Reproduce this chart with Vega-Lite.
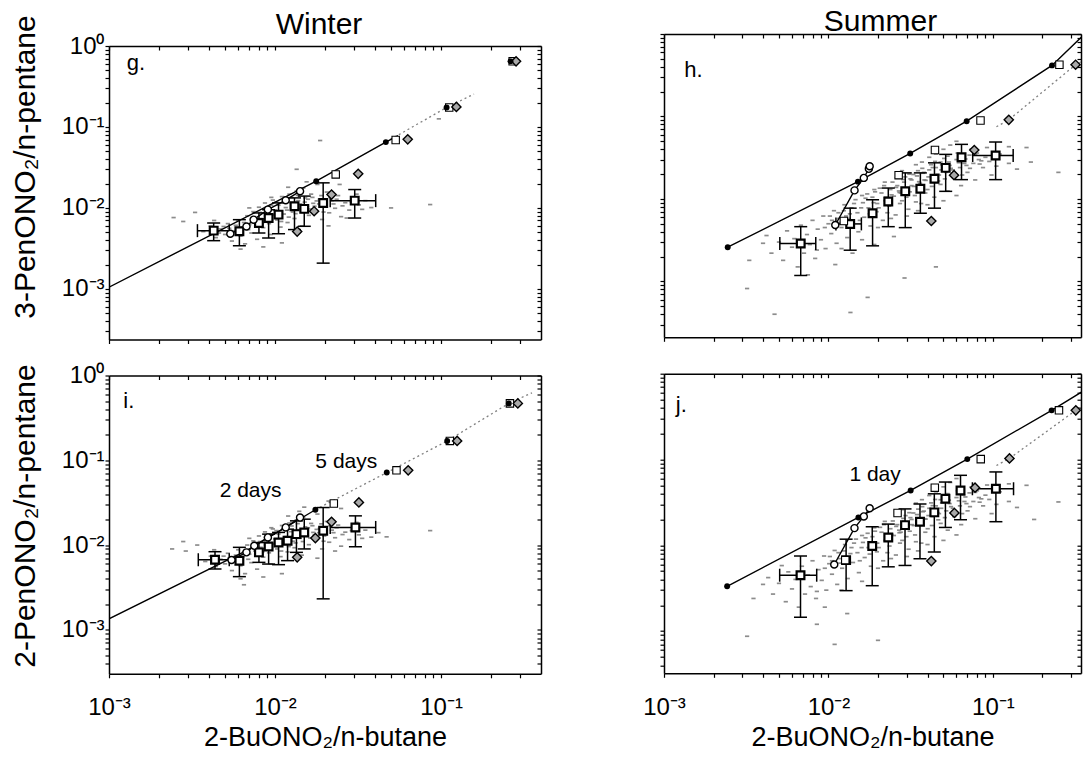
{
"$schema":"https://vega.github.io/schema/vega-lite/v6.json",
"background":"white",
"padding":{"left":10,"top":7,"right":0,"bottom":0},
"spacing":100,
"datasets":{
"pts_g":[{"x":0.00245,"y":0.0076},{"x":0.0028,"y":0.0068},{"x":0.0033,"y":0.0088},{"x":0.0037,"y":0.0051},{"x":0.0041,"y":0.006},{"x":0.0044,"y":0.0043},{"x":0.0047,"y":0.0055},{"x":0.005,"y":0.0047},{"x":0.0052,"y":0.0064},{"x":0.0055,"y":0.0039},{"x":0.0057,"y":0.0052},{"x":0.006,"y":0.007},{"x":0.0062,"y":0.0045},{"x":0.0064,"y":0.0058},{"x":0.0066,"y":0.0036},{"x":0.0068,"y":0.008},{"x":0.007,"y":0.0062},{"x":0.0072,"y":0.0049},{"x":0.0074,"y":0.009},{"x":0.0076,"y":0.0067},{"x":0.0078,"y":0.0041},{"x":0.008,"y":0.0102},{"x":0.0082,"y":0.0074},{"x":0.0085,"y":0.0057},{"x":0.0087,"y":0.0115},{"x":0.009,"y":0.0084},{"x":0.0092,"y":0.0064},{"x":0.0094,"y":0.0047},{"x":0.0097,"y":0.0125},{"x":0.01,"y":0.0094},{"x":0.0103,"y":0.0071},{"x":0.0105,"y":0.0108},{"x":0.0108,"y":0.0058},{"x":0.011,"y":0.0138},{"x":0.0113,"y":0.0084},{"x":0.0116,"y":0.0101},{"x":0.0119,"y":0.0066},{"x":0.0122,"y":0.0148},{"x":0.0125,"y":0.0116},{"x":0.0128,"y":0.0089},{"x":0.0131,"y":0.0074},{"x":0.0135,"y":0.0162},{"x":0.0138,"y":0.0123},{"x":0.0141,"y":0.0097},{"x":0.0145,"y":0.006},{"x":0.0148,"y":0.0176},{"x":0.0152,"y":0.0133},{"x":0.0156,"y":0.0104},{"x":0.016,"y":0.0081},{"x":0.0165,"y":0.0148},{"x":0.017,"y":0.0114},{"x":0.0175,"y":0.0091},{"x":0.018,"y":0.0195},{"x":0.0186,"y":0.0128},{"x":0.0192,"y":0.0072},{"x":0.0198,"y":0.0104},{"x":0.0205,"y":0.0157},{"x":0.0212,"y":0.0087},{"x":0.022,"y":0.0123},{"x":0.023,"y":0.0099},{"x":0.024,"y":0.0142},{"x":0.025,"y":0.0078},{"x":0.0265,"y":0.0116},{"x":0.028,"y":0.0094},{"x":0.03,"y":0.0133},{"x":0.032,"y":0.0109},{"x":0.035,"y":0.0123},{"x":0.038,"y":0.0101},{"x":0.05,"y":0.01},{"x":0.086,"y":0.011},{"x":0.0187,"y":0.068},{"x":0.097,"y":0.126},{"x":0.0135,"y":0.03},{"x":0.0245,"y":0.0195},{"x":0.0085,"y":0.0033},{"x":0.011,"y":0.0037},{"x":0.0062,"y":0.0031},{"x":0.0155,"y":0.021},{"x":0.012,"y":0.018},{"x":0.0095,"y":0.0135},{"x":0.007,"y":0.01},{"x":0.0043,"y":0.007},{"x":0.021,"y":0.006},{"x":0.027,"y":0.0075},{"x":0.0065,"y":0.0066},{"x":0.0069,"y":0.0054},{"x":0.0073,"y":0.0076},{"x":0.0077,"y":0.0059},{"x":0.0081,"y":0.0088},{"x":0.0084,"y":0.0066},{"x":0.0088,"y":0.0098},{"x":0.0091,"y":0.0073},{"x":0.0095,"y":0.0108},{"x":0.0099,"y":0.0082},{"x":0.0102,"y":0.0118},{"x":0.0106,"y":0.0091},{"x":0.0109,"y":0.0068},{"x":0.0114,"y":0.0125},{"x":0.0118,"y":0.0094},{"x":0.0121,"y":0.0077},{"x":0.0126,"y":0.0134},{"x":0.0129,"y":0.0103},{"x":0.0133,"y":0.0085},{"x":0.0137,"y":0.0143},{"x":0.0142,"y":0.0112},{"x":0.0147,"y":0.0088},{"x":0.0151,"y":0.0118},{"x":0.0158,"y":0.0128},{"x":0.0163,"y":0.0097},{"x":0.0168,"y":0.0135},{"x":0.0173,"y":0.0105},{"x":0.0178,"y":0.0122},{"x":0.0184,"y":0.0112},{"x":0.019,"y":0.0142},{"x":0.0196,"y":0.0089},{"x":0.0202,"y":0.0118},{"x":0.0215,"y":0.0135},{"x":0.0225,"y":0.0112},{"x":0.0235,"y":0.0128},{"x":0.0255,"y":0.0106},{"x":0.029,"y":0.0118},{"x":0.031,"y":0.0148},{"x":0.0335,"y":0.0096},{"x":0.0058,"y":0.0061},{"x":0.0053,"y":0.0056},{"x":0.0049,"y":0.0059},{"x":0.0046,"y":0.0049}],
"pts_i":[{"x":0.0024,"y":0.009},{"x":0.0029,"y":0.0085},{"x":0.0034,"y":0.01},{"x":0.0038,"y":0.0064},{"x":0.0041,"y":0.0074},{"x":0.0044,"y":0.0056},{"x":0.0047,"y":0.0068},{"x":0.005,"y":0.006},{"x":0.0052,"y":0.008},{"x":0.0055,"y":0.005},{"x":0.0057,"y":0.0066},{"x":0.006,"y":0.0088},{"x":0.0062,"y":0.0057},{"x":0.0064,"y":0.0073},{"x":0.0066,"y":0.0046},{"x":0.0068,"y":0.01},{"x":0.007,"y":0.0078},{"x":0.0072,"y":0.0062},{"x":0.0074,"y":0.0112},{"x":0.0076,"y":0.0085},{"x":0.0078,"y":0.0052},{"x":0.008,"y":0.0128},{"x":0.0082,"y":0.0094},{"x":0.0085,"y":0.0072},{"x":0.0087,"y":0.0143},{"x":0.009,"y":0.0106},{"x":0.0092,"y":0.0081},{"x":0.0094,"y":0.006},{"x":0.0097,"y":0.0155},{"x":0.01,"y":0.0118},{"x":0.0103,"y":0.009},{"x":0.0105,"y":0.0135},{"x":0.0108,"y":0.0073},{"x":0.011,"y":0.017},{"x":0.0113,"y":0.0105},{"x":0.0116,"y":0.0126},{"x":0.0119,"y":0.0083},{"x":0.0122,"y":0.0182},{"x":0.0125,"y":0.0144},{"x":0.0128,"y":0.0111},{"x":0.0131,"y":0.0093},{"x":0.0135,"y":0.0198},{"x":0.0138,"y":0.0152},{"x":0.0141,"y":0.012},{"x":0.0145,"y":0.0076},{"x":0.0148,"y":0.0212},{"x":0.0152,"y":0.0164},{"x":0.0156,"y":0.0129},{"x":0.016,"y":0.0101},{"x":0.0165,"y":0.018},{"x":0.017,"y":0.0141},{"x":0.0175,"y":0.0113},{"x":0.018,"y":0.0232},{"x":0.0186,"y":0.0157},{"x":0.0192,"y":0.009},{"x":0.0198,"y":0.0128},{"x":0.0205,"y":0.019},{"x":0.0212,"y":0.0108},{"x":0.022,"y":0.015},{"x":0.023,"y":0.0122},{"x":0.024,"y":0.0172},{"x":0.025,"y":0.0097},{"x":0.0265,"y":0.0142},{"x":0.028,"y":0.0116},{"x":0.03,"y":0.016},{"x":0.032,"y":0.0132},{"x":0.035,"y":0.015},{"x":0.038,"y":0.0124},{"x":0.042,"y":0.014},{"x":0.047,"y":0.0125},{"x":0.086,"y":0.0148},{"x":0.021,"y":0.033},{"x":0.025,"y":0.027},{"x":0.015,"y":0.028},{"x":0.0085,"y":0.0042},{"x":0.011,"y":0.0046},{"x":0.0062,"y":0.004},{"x":0.0065,"y":0.0034},{"x":0.014,"y":0.025},{"x":0.012,"y":0.022},{"x":0.0095,"y":0.016},{"x":0.007,"y":0.012},{"x":0.0043,"y":0.0088},{"x":0.018,"y":0.007},{"x":0.023,"y":0.0085},{"x":0.0028,"y":0.011},{"x":0.0065,"y":0.0083},{"x":0.0069,"y":0.0068},{"x":0.0073,"y":0.0095},{"x":0.0077,"y":0.0074},{"x":0.0081,"y":0.011},{"x":0.0084,"y":0.0083},{"x":0.0088,"y":0.0123},{"x":0.0091,"y":0.0091},{"x":0.0095,"y":0.0135},{"x":0.0099,"y":0.0103},{"x":0.0102,"y":0.0148},{"x":0.0106,"y":0.0114},{"x":0.0109,"y":0.0085},{"x":0.0114,"y":0.0156},{"x":0.0118,"y":0.0118},{"x":0.0121,"y":0.0096},{"x":0.0126,"y":0.0168},{"x":0.0129,"y":0.0129},{"x":0.0133,"y":0.0106},{"x":0.0137,"y":0.0179},{"x":0.0142,"y":0.014},{"x":0.0147,"y":0.011},{"x":0.0151,"y":0.0148},{"x":0.0158,"y":0.016},{"x":0.0163,"y":0.0121},{"x":0.0168,"y":0.0169},{"x":0.0173,"y":0.0131},{"x":0.0178,"y":0.0153},{"x":0.0184,"y":0.014},{"x":0.019,"y":0.0178},{"x":0.0196,"y":0.0111},{"x":0.0202,"y":0.0148},{"x":0.0215,"y":0.0169},{"x":0.0225,"y":0.014},{"x":0.0235,"y":0.016},{"x":0.0255,"y":0.0133},{"x":0.029,"y":0.0148},{"x":0.031,"y":0.0185},{"x":0.0335,"y":0.012},{"x":0.0058,"y":0.0076},{"x":0.0053,"y":0.007},{"x":0.0049,"y":0.0074},{"x":0.0046,"y":0.0061}],
"pts_h":[{"x":0.0032,"y":0.00082},{"x":0.0033,"y":0.0018},{"x":0.004,"y":0.0029},{"x":0.0042,"y":0.0036},{"x":0.0045,"y":0.0022},{"x":0.0047,"y":0.0004},{"x":0.005,"y":0.003},{"x":0.0053,"y":0.0018},{"x":0.0056,"y":0.0041},{"x":0.006,"y":0.0026},{"x":0.0062,"y":0.0033},{"x":0.0065,"y":0.0015},{"x":0.0068,"y":0.0048},{"x":0.0071,"y":0.0022},{"x":0.0074,"y":0.0037},{"x":0.0075,"y":0.0012},{"x":0.0077,"y":0.0028},{"x":0.008,"y":0.0055},{"x":0.0083,"y":0.0019},{"x":0.0086,"y":0.0043},{"x":0.009,"y":0.0032},{"x":0.0093,"y":0.0062},{"x":0.0096,"y":0.0025},{"x":0.01,"y":0.005},{"x":0.0104,"y":0.0038},{"x":0.0108,"y":0.0072},{"x":0.011,"y":0.0016},{"x":0.0112,"y":0.0029},{"x":0.0116,"y":0.0058},{"x":0.012,"y":0.0045},{"x":0.0125,"y":0.0085},{"x":0.013,"y":0.0034},{"x":0.0135,"y":0.0066},{"x":0.0136,"y":0.00042},{"x":0.014,"y":0.0052},{"x":0.014,"y":0.0022},{"x":0.0146,"y":0.0098},{"x":0.0152,"y":0.004},{"x":0.0158,"y":0.0078},{"x":0.0165,"y":0.006},{"x":0.0172,"y":0.0115},{"x":0.0173,"y":0.00064},{"x":0.018,"y":0.0047},{"x":0.0188,"y":0.009},{"x":0.019,"y":0.0028},{"x":0.0196,"y":0.007},{"x":0.0205,"y":0.0135},{"x":0.0214,"y":0.0055},{"x":0.0224,"y":0.0105},{"x":0.0234,"y":0.0082},{"x":0.0245,"y":0.016},{"x":0.025,"y":0.0035},{"x":0.0256,"y":0.0064},{"x":0.0268,"y":0.0125},{"x":0.028,"y":0.0095},{"x":0.029,"y":0.0011},{"x":0.0293,"y":0.0185},{"x":0.0306,"y":0.0075},{"x":0.032,"y":0.0145},{"x":0.0335,"y":0.011},{"x":0.035,"y":0.022},{"x":0.0366,"y":0.0088},{"x":0.0383,"y":0.017},{"x":0.04,"y":0.013},{"x":0.042,"y":0.026},{"x":0.044,"y":0.0105},{"x":0.045,"y":0.0015},{"x":0.046,"y":0.02},{"x":0.048,"y":0.015},{"x":0.0505,"y":0.031},{"x":0.053,"y":0.0125},{"x":0.0555,"y":0.0235},{"x":0.058,"y":0.018},{"x":0.061,"y":0.036},{"x":0.064,"y":0.0145},{"x":0.067,"y":0.027},{"x":0.07,"y":0.021},{"x":0.074,"y":0.04},{"x":0.078,"y":0.017},{"x":0.082,"y":0.03},{"x":0.087,"y":0.024},{"x":0.092,"y":0.042},{"x":0.098,"y":0.0195},{"x":0.11,"y":0.035},{"x":0.125,"y":0.043},{"x":0.125,"y":0.027},{"x":0.14,"y":0.023},{"x":0.17,"y":0.028},{"x":0.25,"y":0.021},{"x":0.16,"y":0.042},{"x":0.016,"y":0.011},{"x":0.019,"y":0.013},{"x":0.022,"y":0.016},{"x":0.026,"y":0.018},{"x":0.028,"y":0.022},{"x":0.031,"y":0.02},{"x":0.034,"y":0.026},{"x":0.037,"y":0.028},{"x":0.041,"y":0.032},{"x":0.045,"y":0.035},{"x":0.05,"y":0.04},{"x":0.055,"y":0.045},{"x":0.06,"y":0.05},{"x":0.027,"y":0.012},{"x":0.032,"y":0.017},{"x":0.038,"y":0.021},{"x":0.043,"y":0.024},{"x":0.048,"y":0.028},{"x":0.053,"y":0.033},{"x":0.0105,"y":0.0055},{"x":0.0115,"y":0.0068},{"x":0.0128,"y":0.0062},{"x":0.0138,"y":0.0078},{"x":0.015,"y":0.0068},{"x":0.0162,"y":0.009},{"x":0.0175,"y":0.0078},{"x":0.0185,"y":0.0105},{"x":0.0198,"y":0.0088},{"x":0.021,"y":0.0118},{"x":0.0222,"y":0.0095},{"x":0.0238,"y":0.013},{"x":0.025,"y":0.0108},{"x":0.0262,"y":0.0145},{"x":0.0275,"y":0.0118},{"x":0.0288,"y":0.016},{"x":0.03,"y":0.0132},{"x":0.0315,"y":0.0175},{"x":0.033,"y":0.0142},{"x":0.0345,"y":0.019},{"x":0.036,"y":0.0155},{"x":0.0375,"y":0.0205},{"x":0.039,"y":0.0168},{"x":0.041,"y":0.0225},{"x":0.043,"y":0.018},{"x":0.045,"y":0.024},{"x":0.047,"y":0.0195},{"x":0.049,"y":0.026},{"x":0.052,"y":0.021},{"x":0.054,"y":0.028},{"x":0.057,"y":0.0225},{"x":0.06,"y":0.03},{"x":0.063,"y":0.024},{"x":0.066,"y":0.032},{"x":0.069,"y":0.0255},{"x":0.072,"y":0.034},{"x":0.076,"y":0.027},{"x":0.08,"y":0.036},{"x":0.085,"y":0.029},{"x":0.09,"y":0.032},{"x":0.02,"y":0.0045},{"x":0.024,"y":0.0058},{"x":0.03,"y":0.0062},{"x":0.035,"y":0.0072},{"x":0.04,"y":0.0085},{"x":0.05,"y":0.0095},{"x":0.06,"y":0.011},{"x":0.012,"y":0.0025},{"x":0.016,"y":0.0032},{"x":0.0085,"y":0.0024},{"x":0.0095,"y":0.0045},{"x":0.0102,"y":0.0062},{"x":0.0118,"y":0.0052},{"x":0.0124,"y":0.0072},{"x":0.0133,"y":0.0058},{"x":0.0143,"y":0.0088},{"x":0.0155,"y":0.0055},{"x":0.0168,"y":0.0102},{"x":0.0178,"y":0.0066},{"x":0.0192,"y":0.0122},{"x":0.0202,"y":0.0078},{"x":0.0218,"y":0.0145},{"x":0.0228,"y":0.0068},{"x":0.0242,"y":0.0112},{"x":0.0258,"y":0.0138},{"x":0.0272,"y":0.0088},{"x":0.0285,"y":0.0172},{"x":0.0298,"y":0.0105},{"x":0.0312,"y":0.0122},{"x":0.0328,"y":0.0198},{"x":0.034,"y":0.0092},{"x":0.0355,"y":0.0162},{"x":0.0372,"y":0.0235},{"x":0.0388,"y":0.0118},{"x":0.0405,"y":0.0185},{"x":0.0425,"y":0.0142},{"x":0.0445,"y":0.0285},{"x":0.0465,"y":0.0165},{"x":0.0485,"y":0.0225},{"x":0.051,"y":0.0175},{"x":0.0545,"y":0.0255},{"x":0.0575,"y":0.0205},{"x":0.062,"y":0.0275},{"x":0.065,"y":0.0195},{"x":0.068,"y":0.0305},{"x":0.0725,"y":0.0235},{"x":0.078,"y":0.0345},{"x":0.083,"y":0.0265},{"x":0.095,"y":0.0285},{"x":0.105,"y":0.025}],
"pts_j":[{"x":0.0032,"y":0.00087},{"x":0.0035,"y":0.0024},{"x":0.004,"y":0.0035},{"x":0.0043,"y":0.0042},{"x":0.0046,"y":0.0027},{"x":0.005,"y":0.0036},{"x":0.0052,"y":0.0058},{"x":0.0055,"y":0.0022},{"x":0.0057,"y":0.0049},{"x":0.006,"y":0.0031},{"x":0.0063,"y":0.004},{"x":0.0066,"y":0.0019},{"x":0.0069,"y":0.0057},{"x":0.0072,"y":0.0027},{"x":0.0075,"y":0.0045},{"x":0.0078,"y":0.0033},{"x":0.008,"y":0.0066},{"x":0.0084,"y":0.0024},{"x":0.0087,"y":0.0052},{"x":0.0091,"y":0.0039},{"x":0.0094,"y":0.0075},{"x":0.0097,"y":0.003},{"x":0.0101,"y":0.0061},{"x":0.0105,"y":0.0046},{"x":0.0109,"y":0.0007},{"x":0.0109,"y":0.0087},{"x":0.0113,"y":0.0035},{"x":0.0117,"y":0.007},{"x":0.0121,"y":0.0054},{"x":0.0126,"y":0.0102},{"x":0.0131,"y":0.0041},{"x":0.0136,"y":0.008},{"x":0.0141,"y":0.0063},{"x":0.0147,"y":0.0118},{"x":0.0153,"y":0.0048},{"x":0.0159,"y":0.0094},{"x":0.0166,"y":0.0072},{"x":0.0173,"y":0.0138},{"x":0.0181,"y":0.0057},{"x":0.0189,"y":0.0108},{"x":0.0197,"y":0.0084},{"x":0.02,"y":0.00078},{"x":0.0206,"y":0.0162},{"x":0.0215,"y":0.0066},{"x":0.0225,"y":0.0126},{"x":0.0235,"y":0.0098},{"x":0.0246,"y":0.0192},{"x":0.0257,"y":0.0077},{"x":0.0269,"y":0.015},{"x":0.0281,"y":0.0114},{"x":0.0294,"y":0.0222},{"x":0.0307,"y":0.009},{"x":0.0321,"y":0.0174},{"x":0.0336,"y":0.0132},{"x":0.0351,"y":0.0264},{"x":0.0367,"y":0.0106},{"x":0.0384,"y":0.0204},{"x":0.0401,"y":0.0156},{"x":0.0421,"y":0.0312},{"x":0.0441,"y":0.0126},{"x":0.0461,"y":0.024},{"x":0.0481,"y":0.018},{"x":0.0506,"y":0.0372},{"x":0.0531,"y":0.015},{"x":0.0556,"y":0.0282},{"x":0.0581,"y":0.0216},{"x":0.0611,"y":0.0432},{"x":0.0641,"y":0.0174},{"x":0.0671,"y":0.0324},{"x":0.0701,"y":0.0252},{"x":0.0741,"y":0.048},{"x":0.0781,"y":0.0204},{"x":0.0821,"y":0.036},{"x":0.0871,"y":0.0288},{"x":0.0921,"y":0.0504},{"x":0.0981,"y":0.0234},{"x":0.11,"y":0.042},{"x":0.125,"y":0.052},{"x":0.125,"y":0.0324},{"x":0.14,"y":0.0276},{"x":0.178,"y":0.02},{"x":0.25,"y":0.032},{"x":0.16,"y":0.05},{"x":0.016,"y":0.013},{"x":0.019,"y":0.016},{"x":0.022,"y":0.019},{"x":0.026,"y":0.022},{"x":0.028,"y":0.026},{"x":0.031,"y":0.024},{"x":0.034,"y":0.031},{"x":0.037,"y":0.034},{"x":0.041,"y":0.038},{"x":0.045,"y":0.042},{"x":0.05,"y":0.048},{"x":0.055,"y":0.054},{"x":0.06,"y":0.06},{"x":0.027,"y":0.014},{"x":0.032,"y":0.02},{"x":0.038,"y":0.025},{"x":0.043,"y":0.029},{"x":0.048,"y":0.034},{"x":0.053,"y":0.04},{"x":0.0085,"y":0.0012},{"x":0.013,"y":0.0016},{"x":0.0095,"y":0.0019},{"x":0.0105,"y":0.0066},{"x":0.0115,"y":0.0082},{"x":0.0128,"y":0.0074},{"x":0.0138,"y":0.0094},{"x":0.015,"y":0.0082},{"x":0.0162,"y":0.0108},{"x":0.0175,"y":0.0094},{"x":0.0185,"y":0.0126},{"x":0.0198,"y":0.0106},{"x":0.021,"y":0.0142},{"x":0.0222,"y":0.0114},{"x":0.0238,"y":0.0156},{"x":0.025,"y":0.013},{"x":0.0262,"y":0.0174},{"x":0.0275,"y":0.0142},{"x":0.0288,"y":0.0192},{"x":0.03,"y":0.0158},{"x":0.0315,"y":0.021},{"x":0.033,"y":0.017},{"x":0.0345,"y":0.0228},{"x":0.036,"y":0.0186},{"x":0.0375,"y":0.0246},{"x":0.039,"y":0.0202},{"x":0.041,"y":0.027},{"x":0.043,"y":0.0216},{"x":0.045,"y":0.0288},{"x":0.047,"y":0.0234},{"x":0.049,"y":0.0312},{"x":0.052,"y":0.0252},{"x":0.054,"y":0.0336},{"x":0.057,"y":0.027},{"x":0.06,"y":0.036},{"x":0.063,"y":0.0288},{"x":0.066,"y":0.0384},{"x":0.069,"y":0.0306},{"x":0.072,"y":0.0408},{"x":0.076,"y":0.0324},{"x":0.08,"y":0.0432},{"x":0.085,"y":0.0348},{"x":0.09,"y":0.0384},{"x":0.02,"y":0.0054},{"x":0.024,"y":0.007},{"x":0.03,"y":0.0074},{"x":0.035,"y":0.0086},{"x":0.04,"y":0.0102},{"x":0.05,"y":0.0114},{"x":0.06,"y":0.0132},{"x":0.012,"y":0.003},{"x":0.016,"y":0.0038},{"x":0.0085,"y":0.0029},{"x":0.0095,"y":0.0054},{"x":0.0102,"y":0.0074},{"x":0.0118,"y":0.0062},{"x":0.0124,"y":0.0086},{"x":0.0133,"y":0.007},{"x":0.0143,"y":0.0106},{"x":0.0155,"y":0.0066},{"x":0.0168,"y":0.0122},{"x":0.0178,"y":0.0079},{"x":0.0192,"y":0.0146},{"x":0.0202,"y":0.0094},{"x":0.0218,"y":0.0174},{"x":0.0228,"y":0.0082},{"x":0.0242,"y":0.0134},{"x":0.0258,"y":0.0166},{"x":0.0272,"y":0.0106},{"x":0.0285,"y":0.0206},{"x":0.0298,"y":0.0126},{"x":0.0312,"y":0.0146},{"x":0.0328,"y":0.0238},{"x":0.034,"y":0.011},{"x":0.0355,"y":0.0194},{"x":0.0372,"y":0.0282},{"x":0.0388,"y":0.0142},{"x":0.0405,"y":0.0222},{"x":0.0425,"y":0.017},{"x":0.0445,"y":0.0342},{"x":0.0465,"y":0.0198},{"x":0.0485,"y":0.027},{"x":0.051,"y":0.021},{"x":0.0545,"y":0.0306},{"x":0.0575,"y":0.0246},{"x":0.062,"y":0.033},{"x":0.065,"y":0.0234},{"x":0.068,"y":0.0366},{"x":0.0725,"y":0.0282},{"x":0.078,"y":0.0414},{"x":0.083,"y":0.0318},{"x":0.095,"y":0.0342},{"x":0.105,"y":0.03}],
"mod":[
{"p":"g","s":"line","x":0.001,"y":0.00105},{"p":"g","s":"line","x":0.0177,"y":0.0214},{"p":"g","s":"line","x":0.0465,"y":0.065},{"p":"g","s":"line","x":0.055,"y":0.078},
{"p":"g","s":"dotted","x":0.0465,"y":0.065},{"p":"g","s":"dotted","x":0.108,"y":0.174},{"p":"g","s":"dotted","x":0.158,"y":0.255},
{"p":"g","s":"circ","x":0.00538,"y":0.0048},{"p":"g","s":"circ","x":0.00673,"y":0.0059},{"p":"g","s":"circ","x":0.00743,"y":0.00716},{"p":"g","s":"circ","x":0.00906,"y":0.00953},{"p":"g","s":"circ","x":0.0116,"y":0.01245},{"p":"g","s":"circ","x":0.01415,"y":0.0161},
{"p":"g","s":"dot","x":0.0177,"y":0.0214},{"p":"g","s":"dot","x":0.0465,"y":0.065},{"p":"g","s":"dot","x":0.108,"y":0.174},{"p":"g","s":"dot","x":0.262,"y":0.646},
{"p":"g","s":"sq","x":0.0232,"y":0.0259},{"p":"g","s":"sq","x":0.0533,"y":0.069},{"p":"g","s":"sq","x":0.112,"y":0.174},{"p":"g","s":"sq","x":0.27,"y":0.646},
{"p":"g","s":"dia","x":0.0136,"y":0.0051},{"p":"g","s":"dia","x":0.0172,"y":0.0091},{"p":"g","s":"dia","x":0.0219,"y":0.0146},{"p":"g","s":"dia","x":0.0317,"y":0.0264},{"p":"g","s":"dia","x":0.063,"y":0.0703},{"p":"g","s":"dia","x":0.1237,"y":0.177},{"p":"g","s":"dia","x":0.283,"y":0.646},
{"p":"i","s":"line","x":0.001,"y":0.00135},{"p":"i","s":"line","x":0.00673,"y":0.00858},{"p":"i","s":"line","x":0.0175,"y":0.0261},
{"p":"i","s":"dotted","x":0.0175,"y":0.0261},{"p":"i","s":"dotted","x":0.0471,"y":0.0716},{"p":"i","s":"dotted","x":0.1089,"y":0.169},{"p":"i","s":"dotted","x":0.256,"y":0.469},{"p":"i","s":"dotted","x":0.353,"y":0.625},
{"p":"i","s":"circ","x":0.00547,"y":0.00667},{"p":"i","s":"circ","x":0.00673,"y":0.0082},{"p":"i","s":"circ","x":0.0075,"y":0.0098},{"p":"i","s":"circ","x":0.00906,"y":0.0123},{"p":"i","s":"circ","x":0.0116,"y":0.01614},{"p":"i","s":"circ","x":0.01415,"y":0.0211},
{"p":"i","s":"dot","x":0.0175,"y":0.0261},{"p":"i","s":"dot","x":0.0471,"y":0.0716},{"p":"i","s":"dot","x":0.1089,"y":0.169},{"p":"i","s":"dot","x":0.256,"y":0.469},
{"p":"i","s":"sq","x":0.0226,"y":0.0309},{"p":"i","s":"sq","x":0.0539,"y":0.0762},{"p":"i","s":"sq","x":0.113,"y":0.169},{"p":"i","s":"sq","x":0.26,"y":0.469},
{"p":"i","s":"dia","x":0.0136,"y":0.00716},{"p":"i","s":"dia","x":0.0175,"y":0.0121},{"p":"i","s":"dia","x":0.0219,"y":0.0188},{"p":"i","s":"dia","x":0.032,"y":0.0318},{"p":"i","s":"dia","x":0.0634,"y":0.0762},{"p":"i","s":"dia","x":0.125,"y":0.169},{"p":"i","s":"dia","x":0.29,"y":0.469},
{"p":"h","s":"line","x":0.00244,"y":0.0026},{"p":"h","s":"line","x":0.0151,"y":0.0162},{"p":"h","s":"line","x":0.0314,"y":0.0356},{"p":"h","s":"line","x":0.0692,"y":0.0877},{"p":"h","s":"line","x":0.2286,"y":0.416},{"p":"h","s":"line","x":0.355,"y":0.97},
{"p":"h","s":"dotted","x":0.105,"y":0.075},{"p":"h","s":"dotted","x":0.1248,"y":0.091},{"p":"h","s":"dotted","x":0.318,"y":0.424},{"p":"h","s":"dotted","x":0.36,"y":0.48},
{"p":"h","s":"circ","x":0.011,"y":0.00483},{"p":"h","s":"circ","x":0.0144,"y":0.0127},{"p":"h","s":"circ","x":0.0164,"y":0.018},{"p":"h","s":"circ","x":0.0176,"y":0.0232},{"p":"h","s":"circ","x":0.0178,"y":0.0249},
{"p":"h","s":"dot","x":0.00244,"y":0.0026},{"p":"h","s":"dot","x":0.0151,"y":0.0162},{"p":"h","s":"dot","x":0.0314,"y":0.0356},{"p":"h","s":"dot","x":0.0692,"y":0.0877},{"p":"h","s":"dot","x":0.2286,"y":0.416},
{"p":"h","s":"sq","x":0.0124,"y":0.0054},{"p":"h","s":"sq","x":0.0267,"y":0.0194},{"p":"h","s":"sq","x":0.0444,"y":0.0392},{"p":"h","s":"sq","x":0.084,"y":0.0894},{"p":"h","s":"sq","x":0.2535,"y":0.424},
{"p":"h","s":"dia","x":0.0422,"y":0.0054},{"p":"h","s":"dia","x":0.058,"y":0.0194},{"p":"h","s":"dia","x":0.077,"y":0.0392},{"p":"h","s":"dia","x":0.1248,"y":0.091},{"p":"h","s":"dia","x":0.318,"y":0.424},
{"p":"j","s":"line","x":0.00242,"y":0.00333},{"p":"j","s":"line","x":0.0152,"y":0.0211},{"p":"j","s":"line","x":0.0316,"y":0.0436},{"p":"j","s":"line","x":0.0698,"y":0.101},{"p":"j","s":"line","x":0.2275,"y":0.374},{"p":"j","s":"line","x":0.352,"y":0.625},
{"p":"j","s":"dotted","x":0.105,"y":0.085},{"p":"j","s":"dotted","x":0.126,"y":0.103},{"p":"j","s":"dotted","x":0.319,"y":0.374},{"p":"j","s":"dotted","x":0.36,"y":0.43},
{"p":"j","s":"circ","x":0.01084,"y":0.00597},{"p":"j","s":"circ","x":0.01439,"y":0.01585},{"p":"j","s":"circ","x":0.0164,"y":0.0217},{"p":"j","s":"circ","x":0.0178,"y":0.027},
{"p":"j","s":"dot","x":0.00242,"y":0.00333},{"p":"j","s":"dot","x":0.0152,"y":0.0211},{"p":"j","s":"dot","x":0.0316,"y":0.0436},{"p":"j","s":"dot","x":0.0698,"y":0.101},{"p":"j","s":"dot","x":0.2275,"y":0.374},
{"p":"j","s":"sq","x":0.01265,"y":0.00671},{"p":"j","s":"sq","x":0.0263,"y":0.0238},{"p":"j","s":"sq","x":0.0443,"y":0.0469},{"p":"j","s":"sq","x":0.0843,"y":0.101},{"p":"j","s":"sq","x":0.252,"y":0.374},
{"p":"j","s":"dia","x":0.0422,"y":0.00654},{"p":"j","s":"dia","x":0.0583,"y":0.0238},{"p":"j","s":"dia","x":0.0778,"y":0.0469},{"p":"j","s":"dia","x":0.126,"y":0.103},{"p":"j","s":"dia","x":0.319,"y":0.374}
],
"bins":[
{"p":"g","x":0.00427,"y":0.00524,"lo":0.00394,"hi":0.00651,"xlo":0.00341,"xhi":0.0053},
{"p":"g","x":0.0061,"y":0.00514,"lo":0.00341,"hi":0.00716},
{"p":"g","x":0.008,"y":0.00651,"lo":0.0049,"hi":0.00867},
{"p":"g","x":0.00915,"y":0.0075,"lo":0.00425,"hi":0.0095},
{"p":"g","x":0.0105,"y":0.00826,"lo":0.0048,"hi":0.01153},
{"p":"g","x":0.0131,"y":0.0105,"lo":0.0054,"hi":0.0133},
{"p":"g","x":0.015,"y":0.00973,"lo":0.00593,"hi":0.014},
{"p":"g","x":0.0195,"y":0.0115,"lo":0.00208,"hi":0.0204},
{"p":"g","x":0.0302,"y":0.0123,"lo":0.0075,"hi":0.01686,"xlo":0.0215,"xhi":0.0404},
{"p":"i","x":0.00435,"y":0.00671,"lo":0.00522,"hi":0.00835,"xlo":0.00345,"xhi":0.0053},
{"p":"i","x":0.0061,"y":0.00654,"lo":0.00424,"hi":0.0094},
{"p":"i","x":0.008,"y":0.0082,"lo":0.00625,"hi":0.0107},
{"p":"i","x":0.00915,"y":0.00964,"lo":0.00597,"hi":0.01345},
{"p":"i","x":0.0105,"y":0.01074,"lo":0.00587,"hi":0.0141},
{"p":"i","x":0.0119,"y":0.01124,"lo":0.00655,"hi":0.0154},
{"p":"i","x":0.01346,"y":0.01345,"lo":0.0082,"hi":0.0193},
{"p":"i","x":0.015,"y":0.0141,"lo":0.009,"hi":0.0202},
{"p":"i","x":0.0195,"y":0.01475,"lo":0.00232,"hi":0.0277},
{"p":"i","x":0.0305,"y":0.01614,"lo":0.00955,"hi":0.0221,"xlo":0.0215,"xhi":0.0404},
{"p":"h","x":0.00678,"y":0.00288,"lo":0.00118,"hi":0.00461,"xlo":0.00506,"xhi":0.00837},
{"p":"h","x":0.01355,"y":0.00498,"lo":0.00239,"hi":0.00773,"xlo":0.0111,"xhi":0.01585},
{"p":"h","x":0.01854,"y":0.00671,"lo":0.0027,"hi":0.00977},
{"p":"h","x":0.0231,"y":0.0093,"lo":0.00461,"hi":0.01355},
{"p":"h","x":0.0293,"y":0.01236,"lo":0.00449,"hi":0.0207},
{"p":"h","x":0.0362,"y":0.0133,"lo":0.00671,"hi":0.0207},
{"p":"h","x":0.0441,"y":0.0176,"lo":0.00773,"hi":0.0274},
{"p":"h","x":0.0516,"y":0.0238,"lo":0.01236,"hi":0.0347},
{"p":"h","x":0.0644,"y":0.0321,"lo":0.01714,"hi":0.0459},
{"p":"h","x":0.1038,"y":0.0336,"lo":0.01714,"hi":0.049,"xlo":0.0753,"xhi":0.1327},
{"p":"j","x":0.00676,"y":0.00448,"lo":0.00145,"hi":0.0075,"xlo":0.00505,"xhi":0.00848},
{"p":"j","x":0.0128,"y":0.00671,"lo":0.00296,"hi":0.01178},
{"p":"j","x":0.01845,"y":0.00982,"lo":0.00338,"hi":0.01644},
{"p":"j","x":0.0231,"y":0.0123,"lo":0.00561,"hi":0.01766},
{"p":"j","x":0.0292,"y":0.01718,"lo":0.00582,"hi":0.02655},
{"p":"j","x":0.036,"y":0.01883,"lo":0.00697,"hi":0.0303},
{"p":"j","x":0.044,"y":0.0242,"lo":0.00835,"hi":0.0398},
{"p":"j","x":0.0514,"y":0.0348,"lo":0.01614,"hi":0.0546},
{"p":"j","x":0.0635,"y":0.0436,"lo":0.01986,"hi":0.0654},
{"p":"j","x":0.1042,"y":0.0456,"lo":0.01883,"hi":0.0716,"xlo":0.075,"xhi":0.1334}
],
"txt":[
{"p":"g","k":"L","t":"g.","x":0.00128,"y":0.5},
{"p":"i","k":"L","t":"i.","x":0.00122,"y":0.417},
{"p":"h","k":"L","t":"h.","x":0.00133,"y":0.3},
{"p":"j","k":"L","t":"j.","x":0.00118,"y":0.36},
{"p":"i","k":"N","t":"5 days","x":0.0175,"y":0.082},
{"p":"i","k":"N","t":"2 days","x":0.00464,"y":0.0364},
{"p":"j","k":"N","t":"1 day","x":0.0134,"y":0.0561}
]
},
"hconcat":[
{"spacing":-26,"vconcat":[
{"width":432,"height":1,"data":{"values":[]},"mark":"point"},
{"spacing":18.5,"vconcat":[
{"width":432,"height":293.5,"title":{"text":"Winter","offset":-25,"dx":-6},
"layer":[
{"data":{"name":"pts_g"},"mark":{"type":"point","shape":"M-1,-0.4L1,-0.4L1,0.4L-1,0.4Z","size":18,"filled":true,"color":"#808080","opacity":0.9},
"encoding":{"x":{"field":"x","type":"quantitative","scale":{"type":"log","domain":[0.001,0.4],"nice":false},"axis":{"orient":"bottom","values":[0.001,0.002,0.003,0.004,0.005,0.006,0.007,0.008,0.009,0.01,0.02,0.03,0.04,0.05,0.06,0.07,0.08,0.09,0.1,0.2,0.3],"labels":false,"title":null,"tickSize":4}},
"y":{"field":"y","type":"quantitative","scale":{"type":"log","domain":[0.000237,1],"nice":false},"axis":{"orient":"left","values":[0.0003,0.0004,0.0005,0.0006,0.0007,0.0008,0.0009,0.001,0.002,0.003,0.004,0.005,0.006,0.007,0.008,0.009,0.01,0.02,0.03,0.04,0.05,0.06,0.07,0.08,0.09,0.1,0.2,0.3,0.4,0.5,0.6,0.7,0.8,0.9,1],"tickSize":4,"labelExpr":"abs(log(datum.value)/LN10 - round(log(datum.value)/LN10)) < 0.01 ? '10' + ['⁰','⁻¹','⁻²','⁻³','⁻⁴'][-round(log(datum.value)/LN10)] : ''","labelFontSize":24,"labelPadding":1,"title":"3-PenONO₂/n-pentane","titleFontSize":30,"titleX":-74.5,"titleY":120.5,"titleBaseline":"alphabetic"}}}},
{"data":{"name":"mod"},"transform":[{"filter":"datum.p=='g' && datum.s=='dotted'"}],"mark":{"type":"line","color":"#808080","strokeDash":[2,3],"strokeWidth":1.3,"clip":true},
"encoding":{"x":{"field":"x","type":"quantitative","scale":{"type":"log","domain":[0.001,0.4],"nice":false},"axis":{"orient":"top","values":[0.001,0.002,0.003,0.004,0.005,0.006,0.007,0.008,0.009,0.01,0.02,0.03,0.04,0.05,0.06,0.07,0.08,0.09,0.1,0.2,0.3],"labels":false,"title":null,"tickSize":-4}},
"y":{"field":"y","type":"quantitative","scale":{"type":"log","domain":[0.000237,1],"nice":false},"axis":{"orient":"right","values":[0.0003,0.0004,0.0005,0.0006,0.0007,0.0008,0.0009,0.001,0.002,0.003,0.004,0.005,0.006,0.007,0.008,0.009,0.01,0.02,0.03,0.04,0.05,0.06,0.07,0.08,0.09,0.1,0.2,0.3,0.4,0.5,0.6,0.7,0.8,0.9,1],"labels":false,"title":null,"tickSize":-4}}}},
{"data":{"name":"mod"},"transform":[{"filter":"datum.p=='g' && datum.s=='line'"}],"mark":{"type":"line","color":"black","strokeWidth":1.4,"clip":true},
"encoding":{"x":{"field":"x","type":"quantitative","scale":{"type":"log","domain":[0.001,0.4],"nice":false},"axis":null},"y":{"field":"y","type":"quantitative","scale":{"type":"log","domain":[0.000237,1],"nice":false},"axis":null}}},
{"data":{"name":"mod"},"transform":[{"filter":"datum.p=='g' && datum.s=='circ'"}],"mark":{"type":"line","color":"black","strokeWidth":1.4,"clip":true},
"encoding":{"x":{"field":"x","type":"quantitative","scale":{"type":"log","domain":[0.001,0.4],"nice":false},"axis":null},"y":{"field":"y","type":"quantitative","scale":{"type":"log","domain":[0.000237,1],"nice":false},"axis":null}}},
{"data":{"name":"bins"},"transform":[{"filter":"datum.p=='g'"}],"mark":{"type":"rule","color":"black","strokeWidth":1.5},
"encoding":{"x":{"field":"x","type":"quantitative","scale":{"type":"log","domain":[0.001,0.4],"nice":false},"axis":null},"y":{"field":"lo","type":"quantitative","scale":{"type":"log","domain":[0.000237,1],"nice":false},"axis":null},"y2":{"field":"hi"}}},
{"data":{"name":"bins"},"transform":[{"filter":"datum.p=='g'"},{"fold":["lo","hi"],"as":["k","v"]}],"mark":{"type":"tick","orient":"horizontal","color":"black","size":13,"thickness":1.5,"opacity":1},
"encoding":{"x":{"field":"x","type":"quantitative","scale":{"type":"log","domain":[0.001,0.4],"nice":false},"axis":null},"y":{"field":"v","type":"quantitative","scale":{"type":"log","domain":[0.000237,1],"nice":false},"axis":null}}},
{"data":{"name":"bins"},"transform":[{"filter":"datum.p=='g' && isValid(datum.xlo)"}],"mark":{"type":"rule","color":"black","strokeWidth":1.5},
"encoding":{"x":{"field":"xlo","type":"quantitative","scale":{"type":"log","domain":[0.001,0.4],"nice":false},"axis":null},"x2":{"field":"xhi"},"y":{"field":"y","type":"quantitative","scale":{"type":"log","domain":[0.000237,1],"nice":false},"axis":null}}},
{"data":{"name":"bins"},"transform":[{"filter":"datum.p=='g' && isValid(datum.xlo)"},{"fold":["xlo","xhi"],"as":["k","v"]}],"mark":{"type":"tick","orient":"vertical","color":"black","size":13,"thickness":1.5,"opacity":1},
"encoding":{"x":{"field":"v","type":"quantitative","scale":{"type":"log","domain":[0.001,0.4],"nice":false},"axis":null},"y":{"field":"y","type":"quantitative","scale":{"type":"log","domain":[0.000237,1],"nice":false},"axis":null}}},
{"data":{"name":"bins"},"transform":[{"filter":"datum.p=='g'"}],"mark":{"type":"point","shape":"square","size":60,"filled":true,"fill":"white","stroke":"black","strokeWidth":2.2,"opacity":1},
"encoding":{"x":{"field":"x","type":"quantitative","scale":{"type":"log","domain":[0.001,0.4],"nice":false},"axis":null},"y":{"field":"y","type":"quantitative","scale":{"type":"log","domain":[0.000237,1],"nice":false},"axis":null}}},
{"data":{"name":"mod"},"transform":[{"filter":"datum.p=='g' && datum.s=='sq'"}],"mark":{"type":"point","shape":"square","size":55,"filled":true,"fill":"white","stroke":"black","strokeWidth":1.1,"opacity":1},
"encoding":{"x":{"field":"x","type":"quantitative","scale":{"type":"log","domain":[0.001,0.4],"nice":false},"axis":null},"y":{"field":"y","type":"quantitative","scale":{"type":"log","domain":[0.000237,1],"nice":false},"axis":null}}},
{"data":{"name":"mod"},"transform":[{"filter":"datum.p=='g' && datum.s=='dia'"}],"mark":{"type":"point","shape":"diamond","size":85,"filled":true,"fill":"#a9a9a9","stroke":"black","strokeWidth":1.4,"opacity":1},
"encoding":{"x":{"field":"x","type":"quantitative","scale":{"type":"log","domain":[0.001,0.4],"nice":false},"axis":null},"y":{"field":"y","type":"quantitative","scale":{"type":"log","domain":[0.000237,1],"nice":false},"axis":null}}},
{"data":{"name":"mod"},"transform":[{"filter":"datum.p=='g' && datum.s=='circ'"}],"mark":{"type":"point","shape":"circle","size":50,"filled":true,"fill":"white","stroke":"black","strokeWidth":1.4,"opacity":1},
"encoding":{"x":{"field":"x","type":"quantitative","scale":{"type":"log","domain":[0.001,0.4],"nice":false},"axis":null},"y":{"field":"y","type":"quantitative","scale":{"type":"log","domain":[0.000237,1],"nice":false},"axis":null}}},
{"data":{"name":"mod"},"transform":[{"filter":"datum.p=='g' && datum.s=='dot'"}],"mark":{"type":"point","shape":"circle","size":35,"filled":true,"color":"black","opacity":1},
"encoding":{"x":{"field":"x","type":"quantitative","scale":{"type":"log","domain":[0.001,0.4],"nice":false},"axis":null},"y":{"field":"y","type":"quantitative","scale":{"type":"log","domain":[0.000237,1],"nice":false},"axis":null}}},
{"data":{"name":"txt"},"transform":[{"filter":"datum.p=='g' && datum.k=='L'"}],"mark":{"type":"text","align":"left","baseline":"alphabetic","fontSize":22,"color":"black"},
"encoding":{"x":{"field":"x","type":"quantitative","scale":{"type":"log","domain":[0.001,0.4],"nice":false},"axis":null},"y":{"field":"y","type":"quantitative","scale":{"type":"log","domain":[0.000237,1],"nice":false},"axis":null},"text":{"field":"t"}}}
],
"resolve":{"axis":{"x":"independent","y":"independent"}}},
{"width":432,"height":298.3,
"layer":[
{"data":{"name":"pts_i"},"mark":{"type":"point","shape":"M-1,-0.4L1,-0.4L1,0.4L-1,0.4Z","size":18,"filled":true,"color":"#808080","opacity":0.9},
"encoding":{"x":{"field":"x","type":"quantitative","scale":{"type":"log","domain":[0.001,0.4],"nice":false},"axis":{"orient":"bottom","values":[0.001,0.002,0.003,0.004,0.005,0.006,0.007,0.008,0.009,0.01,0.02,0.03,0.04,0.05,0.06,0.07,0.08,0.09,0.1,0.2,0.3],"tickSize":4,"labelExpr":"abs(log(datum.value)/LN10 - round(log(datum.value)/LN10)) < 0.01 ? '10' + ['⁰','⁻¹','⁻²','⁻³','⁻⁴'][-round(log(datum.value)/LN10)] : ''","labelFontSize":24,"labelPadding":18,"title":"2-BuONO₂/n-butane","titleFontSize":27,"titleY":72,"titleBaseline":"alphabetic"}},
"y":{"field":"y","type":"quantitative","scale":{"type":"log","domain":[0.000303,1],"nice":false},"axis":{"orient":"left","values":[0.0004,0.0005,0.0006,0.0007,0.0008,0.0009,0.001,0.002,0.003,0.004,0.005,0.006,0.007,0.008,0.009,0.01,0.02,0.03,0.04,0.05,0.06,0.07,0.08,0.09,0.1,0.2,0.3,0.4,0.5,0.6,0.7,0.8,0.9,1],"tickSize":4,"labelExpr":"abs(log(datum.value)/LN10 - round(log(datum.value)/LN10)) < 0.01 ? '10' + ['⁰','⁻¹','⁻²','⁻³','⁻⁴'][-round(log(datum.value)/LN10)] : ''","labelFontSize":24,"labelPadding":1,"title":"2-PenONO₂/n-pentane","titleFontSize":30,"titleX":-74.5,"titleY":140,"titleBaseline":"alphabetic"}}}},
{"data":{"name":"mod"},"transform":[{"filter":"datum.p=='i' && datum.s=='dotted'"}],"mark":{"type":"line","color":"#808080","strokeDash":[2,3],"strokeWidth":1.3,"clip":true},
"encoding":{"x":{"field":"x","type":"quantitative","scale":{"type":"log","domain":[0.001,0.4],"nice":false},"axis":{"orient":"top","values":[0.001,0.002,0.003,0.004,0.005,0.006,0.007,0.008,0.009,0.01,0.02,0.03,0.04,0.05,0.06,0.07,0.08,0.09,0.1,0.2,0.3],"labels":false,"title":null,"tickSize":-4}},
"y":{"field":"y","type":"quantitative","scale":{"type":"log","domain":[0.000303,1],"nice":false},"axis":{"orient":"right","values":[0.0004,0.0005,0.0006,0.0007,0.0008,0.0009,0.001,0.002,0.003,0.004,0.005,0.006,0.007,0.008,0.009,0.01,0.02,0.03,0.04,0.05,0.06,0.07,0.08,0.09,0.1,0.2,0.3,0.4,0.5,0.6,0.7,0.8,0.9,1],"labels":false,"title":null,"tickSize":-4}}}},
{"data":{"name":"mod"},"transform":[{"filter":"datum.p=='i' && datum.s=='line'"}],"mark":{"type":"line","color":"black","strokeWidth":1.4,"clip":true},
"encoding":{"x":{"field":"x","type":"quantitative","scale":{"type":"log","domain":[0.001,0.4],"nice":false},"axis":null},"y":{"field":"y","type":"quantitative","scale":{"type":"log","domain":[0.000303,1],"nice":false},"axis":null}}},
{"data":{"name":"mod"},"transform":[{"filter":"datum.p=='i' && datum.s=='circ'"}],"mark":{"type":"line","color":"black","strokeWidth":1.4,"clip":true},
"encoding":{"x":{"field":"x","type":"quantitative","scale":{"type":"log","domain":[0.001,0.4],"nice":false},"axis":null},"y":{"field":"y","type":"quantitative","scale":{"type":"log","domain":[0.000303,1],"nice":false},"axis":null}}},
{"data":{"name":"bins"},"transform":[{"filter":"datum.p=='i'"}],"mark":{"type":"rule","color":"black","strokeWidth":1.5},
"encoding":{"x":{"field":"x","type":"quantitative","scale":{"type":"log","domain":[0.001,0.4],"nice":false},"axis":null},"y":{"field":"lo","type":"quantitative","scale":{"type":"log","domain":[0.000303,1],"nice":false},"axis":null},"y2":{"field":"hi"}}},
{"data":{"name":"bins"},"transform":[{"filter":"datum.p=='i'"},{"fold":["lo","hi"],"as":["k","v"]}],"mark":{"type":"tick","orient":"horizontal","color":"black","size":13,"thickness":1.5,"opacity":1},
"encoding":{"x":{"field":"x","type":"quantitative","scale":{"type":"log","domain":[0.001,0.4],"nice":false},"axis":null},"y":{"field":"v","type":"quantitative","scale":{"type":"log","domain":[0.000303,1],"nice":false},"axis":null}}},
{"data":{"name":"bins"},"transform":[{"filter":"datum.p=='i' && isValid(datum.xlo)"}],"mark":{"type":"rule","color":"black","strokeWidth":1.5},
"encoding":{"x":{"field":"xlo","type":"quantitative","scale":{"type":"log","domain":[0.001,0.4],"nice":false},"axis":null},"x2":{"field":"xhi"},"y":{"field":"y","type":"quantitative","scale":{"type":"log","domain":[0.000303,1],"nice":false},"axis":null}}},
{"data":{"name":"bins"},"transform":[{"filter":"datum.p=='i' && isValid(datum.xlo)"},{"fold":["xlo","xhi"],"as":["k","v"]}],"mark":{"type":"tick","orient":"vertical","color":"black","size":13,"thickness":1.5,"opacity":1},
"encoding":{"x":{"field":"v","type":"quantitative","scale":{"type":"log","domain":[0.001,0.4],"nice":false},"axis":null},"y":{"field":"y","type":"quantitative","scale":{"type":"log","domain":[0.000303,1],"nice":false},"axis":null}}},
{"data":{"name":"bins"},"transform":[{"filter":"datum.p=='i'"}],"mark":{"type":"point","shape":"square","size":60,"filled":true,"fill":"white","stroke":"black","strokeWidth":2.2,"opacity":1},
"encoding":{"x":{"field":"x","type":"quantitative","scale":{"type":"log","domain":[0.001,0.4],"nice":false},"axis":null},"y":{"field":"y","type":"quantitative","scale":{"type":"log","domain":[0.000303,1],"nice":false},"axis":null}}},
{"data":{"name":"mod"},"transform":[{"filter":"datum.p=='i' && datum.s=='sq'"}],"mark":{"type":"point","shape":"square","size":55,"filled":true,"fill":"white","stroke":"black","strokeWidth":1.1,"opacity":1},
"encoding":{"x":{"field":"x","type":"quantitative","scale":{"type":"log","domain":[0.001,0.4],"nice":false},"axis":null},"y":{"field":"y","type":"quantitative","scale":{"type":"log","domain":[0.000303,1],"nice":false},"axis":null}}},
{"data":{"name":"mod"},"transform":[{"filter":"datum.p=='i' && datum.s=='dia'"}],"mark":{"type":"point","shape":"diamond","size":85,"filled":true,"fill":"#a9a9a9","stroke":"black","strokeWidth":1.4,"opacity":1},
"encoding":{"x":{"field":"x","type":"quantitative","scale":{"type":"log","domain":[0.001,0.4],"nice":false},"axis":null},"y":{"field":"y","type":"quantitative","scale":{"type":"log","domain":[0.000303,1],"nice":false},"axis":null}}},
{"data":{"name":"mod"},"transform":[{"filter":"datum.p=='i' && datum.s=='circ'"}],"mark":{"type":"point","shape":"circle","size":50,"filled":true,"fill":"white","stroke":"black","strokeWidth":1.4,"opacity":1},
"encoding":{"x":{"field":"x","type":"quantitative","scale":{"type":"log","domain":[0.001,0.4],"nice":false},"axis":null},"y":{"field":"y","type":"quantitative","scale":{"type":"log","domain":[0.000303,1],"nice":false},"axis":null}}},
{"data":{"name":"mod"},"transform":[{"filter":"datum.p=='i' && datum.s=='dot'"}],"mark":{"type":"point","shape":"circle","size":35,"filled":true,"color":"black","opacity":1},
"encoding":{"x":{"field":"x","type":"quantitative","scale":{"type":"log","domain":[0.001,0.4],"nice":false},"axis":null},"y":{"field":"y","type":"quantitative","scale":{"type":"log","domain":[0.000303,1],"nice":false},"axis":null}}},
{"data":{"name":"txt"},"transform":[{"filter":"datum.p=='i' && datum.k=='L'"}],"mark":{"type":"text","align":"left","baseline":"alphabetic","fontSize":22,"color":"black"},
"encoding":{"x":{"field":"x","type":"quantitative","scale":{"type":"log","domain":[0.001,0.4],"nice":false},"axis":null},"y":{"field":"y","type":"quantitative","scale":{"type":"log","domain":[0.000303,1],"nice":false},"axis":null},"text":{"field":"t"}}},
{"data":{"name":"txt"},"transform":[{"filter":"datum.p=='i' && datum.k=='N'"}],"mark":{"type":"text","align":"left","baseline":"alphabetic","fontSize":21,"color":"black"},
"encoding":{"x":{"field":"x","type":"quantitative","scale":{"type":"log","domain":[0.001,0.4],"nice":false},"axis":null},"y":{"field":"y","type":"quantitative","scale":{"type":"log","domain":[0.000303,1],"nice":false},"axis":null},"text":{"field":"t"}}}
],
"resolve":{"axis":{"x":"independent","y":"independent"}}}
]}
]},
{"spacing":30.7,"vconcat":[
{"width":417,"height":303.3,"title":{"text":"Summer","offset":-4,"dx":8},
"layer":[
{"data":{"name":"pts_h"},"mark":{"type":"point","shape":"M-1,-0.4L1,-0.4L1,0.4L-1,0.4Z","size":18,"filled":true,"color":"#808080","opacity":0.9},
"encoding":{"x":{"field":"x","type":"quantitative","scale":{"type":"log","domain":[0.001,0.343],"nice":false},"axis":{"orient":"bottom","values":[0.001,0.002,0.003,0.004,0.005,0.006,0.007,0.008,0.009,0.01,0.02,0.03,0.04,0.05,0.06,0.07,0.08,0.09,0.1,0.2,0.3],"labels":false,"title":null,"tickSize":4}},
"y":{"field":"y","type":"quantitative","scale":{"type":"log","domain":[0.00021,1],"nice":false},"axis":{"orient":"left","values":[0.0003,0.0004,0.0005,0.0006,0.0007,0.0008,0.0009,0.001,0.002,0.003,0.004,0.005,0.006,0.007,0.008,0.009,0.01,0.02,0.03,0.04,0.05,0.06,0.07,0.08,0.09,0.1,0.2,0.3,0.4,0.5,0.6,0.7,0.8,0.9,1],"labels":false,"title":null,"tickSize":4}}}},
{"data":{"name":"mod"},"transform":[{"filter":"datum.p=='h' && datum.s=='dotted'"}],"mark":{"type":"line","color":"#808080","strokeDash":[2,3],"strokeWidth":1.3,"clip":true},
"encoding":{"x":{"field":"x","type":"quantitative","scale":{"type":"log","domain":[0.001,0.343],"nice":false},"axis":{"orient":"top","values":[0.001,0.002,0.003,0.004,0.005,0.006,0.007,0.008,0.009,0.01,0.02,0.03,0.04,0.05,0.06,0.07,0.08,0.09,0.1,0.2,0.3],"labels":false,"title":null,"tickSize":-4}},
"y":{"field":"y","type":"quantitative","scale":{"type":"log","domain":[0.00021,1],"nice":false},"axis":{"orient":"right","values":[0.0003,0.0004,0.0005,0.0006,0.0007,0.0008,0.0009,0.001,0.002,0.003,0.004,0.005,0.006,0.007,0.008,0.009,0.01,0.02,0.03,0.04,0.05,0.06,0.07,0.08,0.09,0.1,0.2,0.3,0.4,0.5,0.6,0.7,0.8,0.9,1],"labels":false,"title":null,"tickSize":-4}}}},
{"data":{"name":"mod"},"transform":[{"filter":"datum.p=='h' && datum.s=='line'"}],"mark":{"type":"line","color":"black","strokeWidth":1.4,"clip":true},
"encoding":{"x":{"field":"x","type":"quantitative","scale":{"type":"log","domain":[0.001,0.343],"nice":false},"axis":null},"y":{"field":"y","type":"quantitative","scale":{"type":"log","domain":[0.00021,1],"nice":false},"axis":null}}},
{"data":{"name":"mod"},"transform":[{"filter":"datum.p=='h' && datum.s=='circ'"}],"mark":{"type":"line","color":"black","strokeWidth":1.4,"clip":true},
"encoding":{"x":{"field":"x","type":"quantitative","scale":{"type":"log","domain":[0.001,0.343],"nice":false},"axis":null},"y":{"field":"y","type":"quantitative","scale":{"type":"log","domain":[0.00021,1],"nice":false},"axis":null}}},
{"data":{"name":"bins"},"transform":[{"filter":"datum.p=='h'"}],"mark":{"type":"rule","color":"black","strokeWidth":1.5},
"encoding":{"x":{"field":"x","type":"quantitative","scale":{"type":"log","domain":[0.001,0.343],"nice":false},"axis":null},"y":{"field":"lo","type":"quantitative","scale":{"type":"log","domain":[0.00021,1],"nice":false},"axis":null},"y2":{"field":"hi"}}},
{"data":{"name":"bins"},"transform":[{"filter":"datum.p=='h'"},{"fold":["lo","hi"],"as":["k","v"]}],"mark":{"type":"tick","orient":"horizontal","color":"black","size":13,"thickness":1.5,"opacity":1},
"encoding":{"x":{"field":"x","type":"quantitative","scale":{"type":"log","domain":[0.001,0.343],"nice":false},"axis":null},"y":{"field":"v","type":"quantitative","scale":{"type":"log","domain":[0.00021,1],"nice":false},"axis":null}}},
{"data":{"name":"bins"},"transform":[{"filter":"datum.p=='h' && isValid(datum.xlo)"}],"mark":{"type":"rule","color":"black","strokeWidth":1.5},
"encoding":{"x":{"field":"xlo","type":"quantitative","scale":{"type":"log","domain":[0.001,0.343],"nice":false},"axis":null},"x2":{"field":"xhi"},"y":{"field":"y","type":"quantitative","scale":{"type":"log","domain":[0.00021,1],"nice":false},"axis":null}}},
{"data":{"name":"bins"},"transform":[{"filter":"datum.p=='h' && isValid(datum.xlo)"},{"fold":["xlo","xhi"],"as":["k","v"]}],"mark":{"type":"tick","orient":"vertical","color":"black","size":13,"thickness":1.5,"opacity":1},
"encoding":{"x":{"field":"v","type":"quantitative","scale":{"type":"log","domain":[0.001,0.343],"nice":false},"axis":null},"y":{"field":"y","type":"quantitative","scale":{"type":"log","domain":[0.00021,1],"nice":false},"axis":null}}},
{"data":{"name":"bins"},"transform":[{"filter":"datum.p=='h'"}],"mark":{"type":"point","shape":"square","size":60,"filled":true,"fill":"white","stroke":"black","strokeWidth":2.2,"opacity":1},
"encoding":{"x":{"field":"x","type":"quantitative","scale":{"type":"log","domain":[0.001,0.343],"nice":false},"axis":null},"y":{"field":"y","type":"quantitative","scale":{"type":"log","domain":[0.00021,1],"nice":false},"axis":null}}},
{"data":{"name":"mod"},"transform":[{"filter":"datum.p=='h' && datum.s=='sq'"}],"mark":{"type":"point","shape":"square","size":55,"filled":true,"fill":"white","stroke":"black","strokeWidth":1.1,"opacity":1},
"encoding":{"x":{"field":"x","type":"quantitative","scale":{"type":"log","domain":[0.001,0.343],"nice":false},"axis":null},"y":{"field":"y","type":"quantitative","scale":{"type":"log","domain":[0.00021,1],"nice":false},"axis":null}}},
{"data":{"name":"mod"},"transform":[{"filter":"datum.p=='h' && datum.s=='dia'"}],"mark":{"type":"point","shape":"diamond","size":85,"filled":true,"fill":"#a9a9a9","stroke":"black","strokeWidth":1.4,"opacity":1},
"encoding":{"x":{"field":"x","type":"quantitative","scale":{"type":"log","domain":[0.001,0.343],"nice":false},"axis":null},"y":{"field":"y","type":"quantitative","scale":{"type":"log","domain":[0.00021,1],"nice":false},"axis":null}}},
{"data":{"name":"mod"},"transform":[{"filter":"datum.p=='h' && datum.s=='circ'"}],"mark":{"type":"point","shape":"circle","size":50,"filled":true,"fill":"white","stroke":"black","strokeWidth":1.4,"opacity":1},
"encoding":{"x":{"field":"x","type":"quantitative","scale":{"type":"log","domain":[0.001,0.343],"nice":false},"axis":null},"y":{"field":"y","type":"quantitative","scale":{"type":"log","domain":[0.00021,1],"nice":false},"axis":null}}},
{"data":{"name":"mod"},"transform":[{"filter":"datum.p=='h' && datum.s=='dot'"}],"mark":{"type":"point","shape":"circle","size":35,"filled":true,"color":"black","opacity":1},
"encoding":{"x":{"field":"x","type":"quantitative","scale":{"type":"log","domain":[0.001,0.343],"nice":false},"axis":null},"y":{"field":"y","type":"quantitative","scale":{"type":"log","domain":[0.00021,1],"nice":false},"axis":null}}},
{"data":{"name":"txt"},"transform":[{"filter":"datum.p=='h' && datum.k=='L'"}],"mark":{"type":"text","align":"left","baseline":"alphabetic","fontSize":22,"color":"black"},
"encoding":{"x":{"field":"x","type":"quantitative","scale":{"type":"log","domain":[0.001,0.343],"nice":false},"axis":null},"y":{"field":"y","type":"quantitative","scale":{"type":"log","domain":[0.00021,1],"nice":false},"axis":null},"text":{"field":"t"}}}
],
"resolve":{"axis":{"x":"independent","y":"independent"}}},
{"width":417,"height":299.6,
"layer":[
{"data":{"name":"pts_j"},"mark":{"type":"point","shape":"M-1,-0.4L1,-0.4L1,0.4L-1,0.4Z","size":18,"filled":true,"color":"#808080","opacity":0.9},
"encoding":{"x":{"field":"x","type":"quantitative","scale":{"type":"log","domain":[0.001,0.343],"nice":false},"axis":{"orient":"bottom","values":[0.001,0.002,0.003,0.004,0.005,0.006,0.007,0.008,0.009,0.01,0.02,0.03,0.04,0.05,0.06,0.07,0.08,0.09,0.1,0.2,0.3],"tickSize":4,"labelExpr":"abs(log(datum.value)/LN10 - round(log(datum.value)/LN10)) < 0.01 ? '10' + ['⁰','⁻¹','⁻²','⁻³','⁻⁴'][-round(log(datum.value)/LN10)] : ''","labelFontSize":24,"labelPadding":18,"title":"2-BuONO₂/n-butane","titleFontSize":27,"titleY":72,"titleBaseline":"alphabetic"}},
"y":{"field":"y","type":"quantitative","scale":{"type":"log","domain":[0.000322,1],"nice":false},"axis":{"orient":"left","values":[0.0004,0.0005,0.0006,0.0007,0.0008,0.0009,0.001,0.002,0.003,0.004,0.005,0.006,0.007,0.008,0.009,0.01,0.02,0.03,0.04,0.05,0.06,0.07,0.08,0.09,0.1,0.2,0.3,0.4,0.5,0.6,0.7,0.8,0.9,1],"labels":false,"title":null,"tickSize":4}}}},
{"data":{"name":"mod"},"transform":[{"filter":"datum.p=='j' && datum.s=='dotted'"}],"mark":{"type":"line","color":"#808080","strokeDash":[2,3],"strokeWidth":1.3,"clip":true},
"encoding":{"x":{"field":"x","type":"quantitative","scale":{"type":"log","domain":[0.001,0.343],"nice":false},"axis":{"orient":"top","values":[0.001,0.002,0.003,0.004,0.005,0.006,0.007,0.008,0.009,0.01,0.02,0.03,0.04,0.05,0.06,0.07,0.08,0.09,0.1,0.2,0.3],"labels":false,"title":null,"tickSize":-4}},
"y":{"field":"y","type":"quantitative","scale":{"type":"log","domain":[0.000322,1],"nice":false},"axis":{"orient":"right","values":[0.0004,0.0005,0.0006,0.0007,0.0008,0.0009,0.001,0.002,0.003,0.004,0.005,0.006,0.007,0.008,0.009,0.01,0.02,0.03,0.04,0.05,0.06,0.07,0.08,0.09,0.1,0.2,0.3,0.4,0.5,0.6,0.7,0.8,0.9,1],"labels":false,"title":null,"tickSize":-4}}}},
{"data":{"name":"mod"},"transform":[{"filter":"datum.p=='j' && datum.s=='line'"}],"mark":{"type":"line","color":"black","strokeWidth":1.4,"clip":true},
"encoding":{"x":{"field":"x","type":"quantitative","scale":{"type":"log","domain":[0.001,0.343],"nice":false},"axis":null},"y":{"field":"y","type":"quantitative","scale":{"type":"log","domain":[0.000322,1],"nice":false},"axis":null}}},
{"data":{"name":"mod"},"transform":[{"filter":"datum.p=='j' && datum.s=='circ'"}],"mark":{"type":"line","color":"black","strokeWidth":1.4,"clip":true},
"encoding":{"x":{"field":"x","type":"quantitative","scale":{"type":"log","domain":[0.001,0.343],"nice":false},"axis":null},"y":{"field":"y","type":"quantitative","scale":{"type":"log","domain":[0.000322,1],"nice":false},"axis":null}}},
{"data":{"name":"bins"},"transform":[{"filter":"datum.p=='j'"}],"mark":{"type":"rule","color":"black","strokeWidth":1.5},
"encoding":{"x":{"field":"x","type":"quantitative","scale":{"type":"log","domain":[0.001,0.343],"nice":false},"axis":null},"y":{"field":"lo","type":"quantitative","scale":{"type":"log","domain":[0.000322,1],"nice":false},"axis":null},"y2":{"field":"hi"}}},
{"data":{"name":"bins"},"transform":[{"filter":"datum.p=='j'"},{"fold":["lo","hi"],"as":["k","v"]}],"mark":{"type":"tick","orient":"horizontal","color":"black","size":13,"thickness":1.5,"opacity":1},
"encoding":{"x":{"field":"x","type":"quantitative","scale":{"type":"log","domain":[0.001,0.343],"nice":false},"axis":null},"y":{"field":"v","type":"quantitative","scale":{"type":"log","domain":[0.000322,1],"nice":false},"axis":null}}},
{"data":{"name":"bins"},"transform":[{"filter":"datum.p=='j' && isValid(datum.xlo)"}],"mark":{"type":"rule","color":"black","strokeWidth":1.5},
"encoding":{"x":{"field":"xlo","type":"quantitative","scale":{"type":"log","domain":[0.001,0.343],"nice":false},"axis":null},"x2":{"field":"xhi"},"y":{"field":"y","type":"quantitative","scale":{"type":"log","domain":[0.000322,1],"nice":false},"axis":null}}},
{"data":{"name":"bins"},"transform":[{"filter":"datum.p=='j' && isValid(datum.xlo)"},{"fold":["xlo","xhi"],"as":["k","v"]}],"mark":{"type":"tick","orient":"vertical","color":"black","size":13,"thickness":1.5,"opacity":1},
"encoding":{"x":{"field":"v","type":"quantitative","scale":{"type":"log","domain":[0.001,0.343],"nice":false},"axis":null},"y":{"field":"y","type":"quantitative","scale":{"type":"log","domain":[0.000322,1],"nice":false},"axis":null}}},
{"data":{"name":"bins"},"transform":[{"filter":"datum.p=='j'"}],"mark":{"type":"point","shape":"square","size":60,"filled":true,"fill":"white","stroke":"black","strokeWidth":2.2,"opacity":1},
"encoding":{"x":{"field":"x","type":"quantitative","scale":{"type":"log","domain":[0.001,0.343],"nice":false},"axis":null},"y":{"field":"y","type":"quantitative","scale":{"type":"log","domain":[0.000322,1],"nice":false},"axis":null}}},
{"data":{"name":"mod"},"transform":[{"filter":"datum.p=='j' && datum.s=='sq'"}],"mark":{"type":"point","shape":"square","size":55,"filled":true,"fill":"white","stroke":"black","strokeWidth":1.1,"opacity":1},
"encoding":{"x":{"field":"x","type":"quantitative","scale":{"type":"log","domain":[0.001,0.343],"nice":false},"axis":null},"y":{"field":"y","type":"quantitative","scale":{"type":"log","domain":[0.000322,1],"nice":false},"axis":null}}},
{"data":{"name":"mod"},"transform":[{"filter":"datum.p=='j' && datum.s=='dia'"}],"mark":{"type":"point","shape":"diamond","size":85,"filled":true,"fill":"#a9a9a9","stroke":"black","strokeWidth":1.4,"opacity":1},
"encoding":{"x":{"field":"x","type":"quantitative","scale":{"type":"log","domain":[0.001,0.343],"nice":false},"axis":null},"y":{"field":"y","type":"quantitative","scale":{"type":"log","domain":[0.000322,1],"nice":false},"axis":null}}},
{"data":{"name":"mod"},"transform":[{"filter":"datum.p=='j' && datum.s=='circ'"}],"mark":{"type":"point","shape":"circle","size":50,"filled":true,"fill":"white","stroke":"black","strokeWidth":1.4,"opacity":1},
"encoding":{"x":{"field":"x","type":"quantitative","scale":{"type":"log","domain":[0.001,0.343],"nice":false},"axis":null},"y":{"field":"y","type":"quantitative","scale":{"type":"log","domain":[0.000322,1],"nice":false},"axis":null}}},
{"data":{"name":"mod"},"transform":[{"filter":"datum.p=='j' && datum.s=='dot'"}],"mark":{"type":"point","shape":"circle","size":35,"filled":true,"color":"black","opacity":1},
"encoding":{"x":{"field":"x","type":"quantitative","scale":{"type":"log","domain":[0.001,0.343],"nice":false},"axis":null},"y":{"field":"y","type":"quantitative","scale":{"type":"log","domain":[0.000322,1],"nice":false},"axis":null}}},
{"data":{"name":"txt"},"transform":[{"filter":"datum.p=='j' && datum.k=='L'"}],"mark":{"type":"text","align":"left","baseline":"alphabetic","fontSize":22,"color":"black"},
"encoding":{"x":{"field":"x","type":"quantitative","scale":{"type":"log","domain":[0.001,0.343],"nice":false},"axis":null},"y":{"field":"y","type":"quantitative","scale":{"type":"log","domain":[0.000322,1],"nice":false},"axis":null},"text":{"field":"t"}}},
{"data":{"name":"txt"},"transform":[{"filter":"datum.p=='j' && datum.k=='N'"}],"mark":{"type":"text","align":"left","baseline":"alphabetic","fontSize":21,"color":"black"},
"encoding":{"x":{"field":"x","type":"quantitative","scale":{"type":"log","domain":[0.001,0.343],"nice":false},"axis":null},"y":{"field":"y","type":"quantitative","scale":{"type":"log","domain":[0.000322,1],"nice":false},"axis":null},"text":{"field":"t"}}}
],
"resolve":{"axis":{"x":"independent","y":"independent"}}}
]}
],
"config":{
"font":"Liberation Sans",
"view":{"stroke":null},
"axis":{"labelFont":"Liberation Sans","titleFont":"Liberation Sans","labelColor":"black","titleColor":"black","tickColor":"black","domainColor":"black","domainWidth":1.5,"tickWidth":1.2,"titleFontWeight":"normal","grid":false,"labelOverlap":false,"labelFlush":false},
"title":{"font":"Liberation Sans","fontWeight":"normal","fontSize":30,"color":"black","baseline":"alphabetic","frame":"group"},
"text":{"font":"Liberation Sans"}
}
}
